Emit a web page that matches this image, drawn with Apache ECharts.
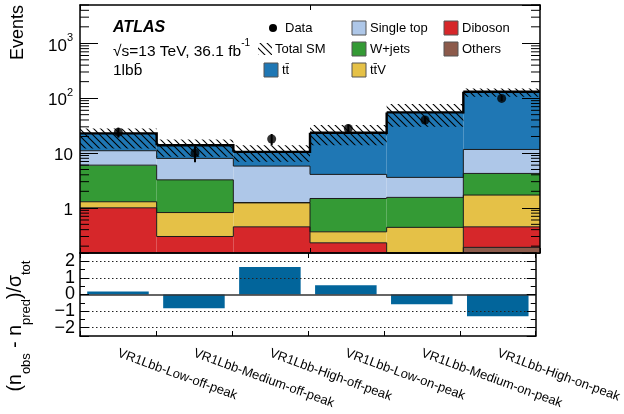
<!DOCTYPE html>
<html><head><meta charset="utf-8">
<script src="https://cdn.jsdelivr.net/npm/echarts@6/dist/echarts.min.js"></script>
<style>html,body{margin:0;padding:0;background:#fff}#c{width:624px;height:414px}</style>
</head><body><div id="c"></div>
<script>
// ---------- data ----------
const categories = ['VR1Lbb-Low-off-peak','VR1Lbb-Medium-off-peak','VR1Lbb-High-off-peak','VR1Lbb-Low-on-peak','VR1Lbb-Medium-on-peak','VR1Lbb-High-on-peak'];
const others    = [0.02, 0.02, 0.02, 0.02, 0.02, 0.19];
const diboson   = [0.98, 0.28, 0.43, 0.21, 0.08, 0.26];
const ttV       = [0.29, 0.52, 0.78, 0.135, 0.34, 1.26];
const wjets     = [4.71, 2.42, 0.02, 1.115, 1.11, 2.53];
const singleTop = [5.0, 4.73, 4.52, 2.59, 2.04, 7.36];
const ttbar     = [11.8, 5.83, 4.73, 19.3, 51.4, 119.4];
const bandLo    = [12.1, 8.5, 6.9, 13.9, 30, 106];
const bandHi    = [28.1, 17.7, 13.9, 32.4, 78, 150];
const dataObs   = [24, 10, 18, 28, 40, 99];
const dataErr   = [4.9, 3.2, 4.2, 5.3, 6.3, 9.9];
const pull      = [0.18, -0.83, 1.65, 0.55, -0.59, -1.31];
const minorTicks = [0.2,0.3,0.4,0.5,0.6,0.7,0.8,0.9,2,3,4,5,6,7,8,9,20,30,40,50,60,70,80,90,200,300,400,500,600,700,800,900,2000,3000,4000,5000];

const YMIN = 0.15, YMAX = 5000;
const FONT = '"Liberation Sans", Arial, Helvetica, sans-serif';
const comps = [others, diboson, ttV, wjets, singleTop, ttbar];
const compColors = ['#8c5a4b', '#d6272a', '#e5c147', '#349a35', '#aec7e8', '#1f77b4'];

// cumulative stack
const cumLo = [], cumHi = [];
let run = categories.map(() => 0);
comps.forEach(arr => {
  cumLo.push(run.slice());
  run = run.map((r, i) => r + arr[i]);
  cumHi.push(run.slice());
});

// hatch pattern
function makeHatch() {
  const s = 7, cv = document.createElement('canvas');
  cv.width = s; cv.height = s;
  const g = cv.getContext('2d');
  g.strokeStyle = '#000'; g.lineWidth = 1.1;
  g.beginPath();
  g.moveTo(-1, -1); g.lineTo(s + 1, s + 1);
  g.moveTo(-1, s - 1); g.lineTo(1, s + 1);
  g.moveTo(s - 1, -1); g.lineTo(s + 1, 1);
  g.stroke();
  return cv;
}
const hatchCanvas = makeHatch();
const hatchFill = { image: hatchCanvas, repeat: 'repeat' };

const clampV = v => Math.min(Math.max(v, YMIN), YMAX);

function fillSeries(k) {
  return {
    type: 'custom', xAxisIndex: 0, yAxisIndex: 0, z: 2, silent: true,
    data: categories.map((c, i) => [i, cumLo[k][i], cumHi[k][i]]),
    encode: { x: 0, y: 2 },
    renderItem: (params, api) => {
      const i = api.value(0), lo = api.value(1), hi = api.value(2);
      if (!(hi > YMIN)) return;
      const w = api.size([1, 0])[0];
      const a = api.coord([i, clampV(hi)]);
      const b = api.coord([i, clampV(lo)]);
      return { type: 'rect', shape: { x: a[0] - w / 2, y: a[1], width: w, height: b[1] - a[1] }, style: { fill: compColors[k] } };
    }
  };
}
function lineSeries(k, width, color) {
  return {
    type: 'custom', xAxisIndex: 0, yAxisIndex: 0, z: 3, silent: true,
    data: categories.map((c, i) => [i, cumLo[k][i], cumHi[k][i], i < categories.length - 1 ? cumHi[k][i + 1] : null]),
    encode: { x: 0, y: 2 },
    renderItem: (params, api) => {
      const i = api.value(0), hi = api.value(2), nx = api.value(3);
      if (!(hi > YMIN) && !(nx > YMIN)) return;
      const w = api.size([1, 0])[0];
      const a = api.coord([i, clampV(hi)]);
      const pts = [[a[0] - w / 2, a[1]], [a[0] + w / 2, a[1]]];
      if (isFinite(nx)) pts.push([a[0] + w / 2, api.coord([i + 1, clampV(nx)])[1]]);
      return { type: 'polyline', shape: { points: pts }, style: { stroke: color, lineWidth: width, fill: null, lineJoin: 'miter' } };
    }
  };
}

const series = [];
comps.forEach((c, k) => series.push(fillSeries(k)));
comps.forEach((c, k) => series.push(lineSeries(k, k === comps.length - 1 ? 2.4 : 1, k === comps.length - 1 ? '#000' : '#1a1a1a')));
series.push({
  type: 'custom', xAxisIndex: 0, yAxisIndex: 0, z: 4, silent: true,
  data: categories.map((c, i) => [i, bandLo[i], bandHi[i]]),
  encode: { x: 0, y: 2 },
  renderItem: (params, api) => {
    const i = api.value(0);
    const w = api.size([1, 0])[0];
    const a = api.coord([i, api.value(2)]);
    const b = api.coord([i, api.value(1)]);
    return { type: 'rect', shape: { x: a[0] - w / 2, y: a[1], width: w, height: b[1] - a[1] }, style: { fill: hatchFill } };
  }
});
// data error bars
series.push({
  type: 'custom', xAxisIndex: 0, yAxisIndex: 0, z: 5, silent: true,
  data: categories.map((c, i) => [i, dataObs[i] - dataErr[i], dataObs[i] + dataErr[i]]),
  encode: { x: 0, y: 2 },
  renderItem: (params, api) => {
    const i = api.value(0);
    const a = api.coord([i, api.value(1)]), b = api.coord([i, api.value(2)]);
    return { type: 'line', shape: { x1: a[0], y1: a[1], x2: b[0], y2: b[1] }, style: { stroke: '#000', lineWidth: 2 } };
  }
});
series.push({
  type: 'scatter', xAxisIndex: 0, yAxisIndex: 0, z: 6, silent: true,
  symbol: 'circle', symbolSize: 9, itemStyle: { color: '#000' },
  data: categories.map((c, i) => [i, dataObs[i]])
});
// minor ticks on log axis (both sides)
series.push({
  type: 'custom', xAxisIndex: 0, yAxisIndex: 0, z: 12, silent: true,
  data: minorTicks.map(v => [0, v]),
  encode: { x: 0, y: 1 },
  renderItem: (params, api) => {
    const cs = params.coordSys;
    const y = api.coord([0, api.value(1)])[1];
    return { type: 'group', children: [
      { type: 'line', shape: { x1: cs.x, y1: y, x2: cs.x + 9, y2: y }, style: { stroke: '#000', lineWidth: 1 } },
      { type: 'line', shape: { x1: cs.x + cs.width - 9, y1: y, x2: cs.x + cs.width, y2: y }, style: { stroke: '#000', lineWidth: 1 } }
    ] };
  }
});
// pull bars
series.push({
  type: 'bar', xAxisIndex: 2, yAxisIndex: 2, z: 2, silent: true,
  barWidth: '81%', itemStyle: { color: '#02659b' },
  data: pull,
  markLine: {
    silent: true, symbol: 'none', label: { show: false },
    lineStyle: { color: '#222', type: [1.5, 2.5], width: 1 },
    data: [{ yAxis: 2 }, { yAxis: 1 }, { yAxis: -1 }, { yAxis: -2 },
           { yAxis: 0, lineStyle: { type: 'solid', color: '#333', width: 1.5 } }]
  }
});

const axLine = { show: true, onZero: false, lineStyle: { color: '#000', width: 1.5 } };
function catAxis(grid, pos, labels) {
  return {
    gridIndex: grid, type: 'category', data: categories, position: pos, z: 10,
    axisLine: axLine,
    axisTick: { show: true, inside: true, length: 5, lineStyle: { color: '#000' } },
    axisLabel: labels ? { show: true, rotate: -20, fontSize: 13, fontFamily: FONT, color: '#000', margin: 17, interval: 0 } : { show: false },
    splitLine: { show: false }
  };
}
function logAxis(pos, labels) {
  return {
    gridIndex: 0, type: 'log', logBase: 10, min: YMIN, max: YMAX, position: pos, z: 10,
    axisLine: axLine,
    axisTick: { show: true, inside: true, length: 18, lineStyle: { color: '#000' } },
    splitLine: { show: false },
    axisLabel: labels ? {
      show: true, margin: 7, showMinLabel: false, showMaxLabel: false,
      formatter: v => {
        const e = Math.round(Math.log10(v));
        if (Math.abs(v - Math.pow(10, e)) > 1e-6 * v) return '';
        if (e === 0) return '{b|1}';
        if (e === 1) return '{b|10}';
        return '{b|10}{s|' + e + '}';
      },
      rich: {
        b: { fontSize: 17, fontFamily: FONT, color: '#000', lineHeight: 22, verticalAlign: 'bottom' },
        s: { fontSize: 11, fontFamily: FONT, color: '#000', lineHeight: 22, verticalAlign: 'top' }
      }
    } : { show: false }
  };
}
function pullAxis(pos, labels) {
  return {
    gridIndex: 1, type: 'value', min: -2.5, max: 2.5, splitNumber: 5, position: pos, z: 10,
    axisLine: axLine,
    axisTick: { show: true, inside: true, length: 9, lineStyle: { color: '#000' } },
    minorTick: { show: true, splitNumber: 2, length: 5, lineStyle: { color: '#000' } },
    splitLine: { show: false },
    axisLabel: labels ? {
      show: true, margin: 5, fontSize: 18, fontFamily: FONT, color: '#000',
      showMinLabel: false, showMaxLabel: false,
      formatter: v => Number.isInteger(v) ? (v < 0 ? '\u2212' + (-v) : String(v)) : ''
    } : { show: false }
  };
}

// legend (graphic)
const legendBoxes = [
  { name: 'Single top', color: compColors[4], x: 352, y: 28 },
  { name: 'W+jets', color: compColors[3], x: 352, y: 49 },
  { name: 'tt\u0304V', color: compColors[2], x: 352, y: 70 },
  { name: 'Diboson', color: compColors[1], x: 444, y: 28 },
  { name: 'Others', color: compColors[0], x: 444, y: 49 },
  { name: 'tt\u0304', color: compColors[5], x: 264, y: 70 }
];
const txt = (x, y, text, extra) => ({ type: 'text', x, y, silent: true, style: Object.assign({ text, font: '13px ' + FONT, fill: '#000', verticalAlign: 'middle' }, extra || {}) });
const graphic = [];
legendBoxes.forEach(e => {
  graphic.push({ type: 'rect', silent: true, shape: { x: e.x, y: e.y - 7, width: 14, height: 14 }, style: { fill: e.color, stroke: '#555', lineWidth: 1 } });
  graphic.push(txt(e.x + 18, e.y, e.name));
});
graphic.push({ type: 'circle', silent: true, shape: { cx: 273, cy: 28, r: 4 }, style: { fill: '#000' } });
graphic.push(txt(285, 28, 'Data'));
graphic.push({ type: 'rect', silent: true, shape: { x: 258, y: 43, width: 14, height: 12 }, style: { fill: hatchFill } });
graphic.push(txt(275, 49, 'Total SM'));
// ATLAS label
graphic.push(txt(113, 28, 'ATLAS', { font: 'italic bold 16px ' + FONT }));
graphic.push({ type: 'text', x: 113, y: 49, silent: true, style: {
  text: '{b|\u221As=13 TeV, 36.1 fb}{s|-1}', verticalAlign: 'middle',
  rich: { b: { fontSize: 15.5, fontFamily: FONT, fill: '#000', lineHeight: 21, verticalAlign: 'bottom' },
          s: { fontSize: 10, fontFamily: FONT, fill: '#000', lineHeight: 21, verticalAlign: 'top' } } } });
graphic.push(txt(113, 71, '1lbb\u0304', { font: '15.5px ' + FONT }));
// axis titles
graphic.push({ type: 'text', x: 18, y: 5, rotation: Math.PI / 2, silent: true,
  style: { text: 'Events', font: '18px ' + FONT, fill: '#000', align: 'right', verticalAlign: 'middle' } });
graphic.push({ type: 'text', x: 19, y: 326, rotation: Math.PI / 2, silent: true,
  style: { text: '{b|(n}{s|obs}{b| - n}{s|pred}{b|)/\u03C3}{s|tot}', align: 'center', verticalAlign: 'middle',
    rich: { b: { fontSize: 19.5, fontFamily: FONT, fill: '#000', lineHeight: 27, verticalAlign: 'top' },
            s: { fontSize: 13, fontFamily: FONT, fill: '#000', lineHeight: 27, verticalAlign: 'bottom' } } } });

const option = {
  animation: false,
  backgroundColor: '#fff',
  grid: [
    { left: 80, right: 84, top: 5, height: 248 },
    { left: 80, right: 84, top: 253, height: 83 }
  ],
  xAxis: [catAxis(0, 'bottom', false), catAxis(0, 'top', false), catAxis(1, 'bottom', true), catAxis(1, 'top', false)],
  yAxis: [logAxis('left', true), logAxis('right', false), pullAxis('left', true), pullAxis('right', false)],
  series,
  graphic
};
const chart = echarts.init(document.getElementById('c'), null, { renderer: 'canvas' });
chart.setOption(option);
</script></body></html>
